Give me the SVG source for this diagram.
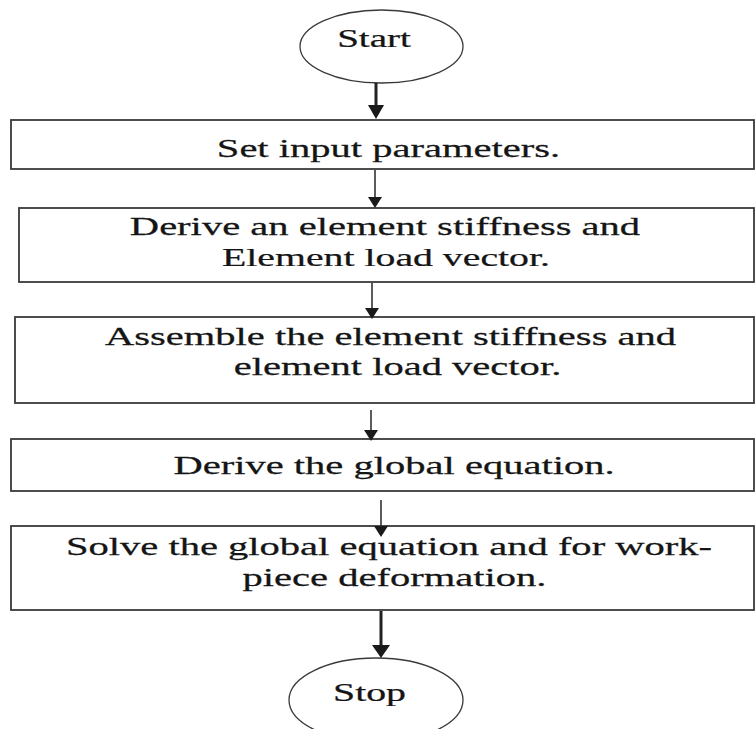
<svg xmlns="http://www.w3.org/2000/svg" width="756" height="729" viewBox="0 0 756 729">
<defs>
<style>
.box{fill:#fff;stroke:#3a3a3a;stroke-width:1.8}
.term{fill:#fff;stroke:#3a3a3a;stroke-width:1.3}
.t{font-family:"Liberation Serif","Times New Roman",serif;font-size:26px;fill:#151515;stroke:#151515;stroke-width:0.25;text-anchor:middle}
.c{stroke:#333;stroke-width:1.6;fill:none}
.ct{stroke:#222;stroke-width:3;fill:none}
.ah{fill:#1a1a1a}
</style>
</defs>
<rect width="756" height="729" fill="#fff"/>
<g id="start">
<ellipse class="term" cx="381.5" cy="46.5" rx="81.5" ry="36.5"/>
<text class="t" transform="translate(374 47) scale(1.5 1)">Start</text>
</g>
<g id="n1">
<rect class="box" x="11" y="120" width="743" height="49"/>
<text class="t" transform="translate(388.5 157) scale(1.56 1)">Set input parameters.</text>
</g>
<g id="n2">
<rect class="box" x="19" y="208" width="735" height="74"/>
<text class="t" transform="translate(385 235) scale(1.56 1)">Derive an element stiffness and</text>
<text class="t" transform="translate(386 266) scale(1.53 1)">Element load vector.</text>
</g>
<g id="n3">
<rect class="box" x="15" y="317" width="739" height="86"/>
<text class="t" transform="translate(390.5 345) scale(1.56 1)">Assemble the element stiffness and</text>
<text class="t" transform="translate(397.5 375) scale(1.56 1)">element load vector.</text>
</g>
<g id="n4">
<rect class="box" x="11" y="439" width="743" height="52"/>
<text class="t" transform="translate(394 474) scale(1.56 1)">Derive the global equation.</text>
</g>
<g id="n5">
<rect class="box" x="11" y="526" width="743" height="84"/>
<text class="t" transform="translate(389 555) scale(1.56 1)">Solve the global equation and for work-</text>
<text class="t" transform="translate(394.5 586) scale(1.56 1)">piece deformation.</text>
</g>
<g id="stop">
<ellipse class="term" cx="376" cy="700" rx="87" ry="42"/>
<text class="t" transform="translate(369.5 701) scale(1.53 1)">Stop</text>
</g>
<g id="connectors">
<line class="ct" x1="376" y1="83" x2="376" y2="106"/>
<polygon class="ah" points="368,105 384,105 376,119"/>
<line class="c" x1="375" y1="170" x2="375" y2="198"/>
<polygon class="ah" points="368,197 382,197 375,208"/>
<line class="c" x1="372" y1="283" x2="372" y2="309"/>
<polygon class="ah" points="365,308 379,308 372,319"/>
<line class="c" x1="371" y1="410" x2="371" y2="431"/>
<polygon class="ah" points="364,430 378,430 371,441"/>
<line class="c" x1="381" y1="500" x2="381" y2="527"/>
<polygon class="ah" points="374,526 388,526 381,537"/>
<line class="ct" x1="381" y1="611" x2="381" y2="646"/>
<polygon class="ah" points="372,645 390,645 381,658"/>
</g>
</svg>
